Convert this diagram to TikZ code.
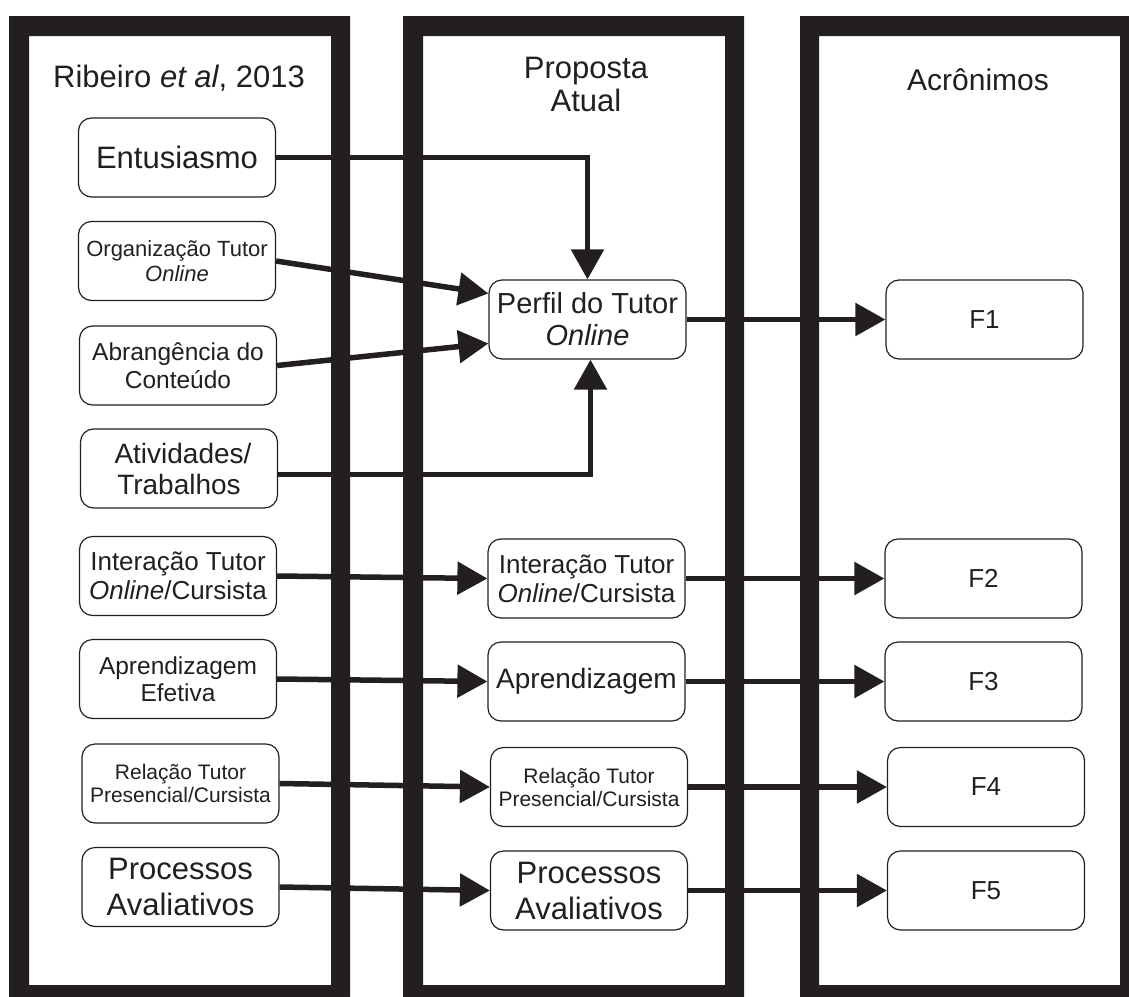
\documentclass[tikz,border=0pt]{standalone}
\usepackage{fontspec}
\setmainfont{Liberation Sans}
\usetikzlibrary{arrows.meta}
\definecolor{ink}{RGB}{35,31,32}
\newcommand{\fs}[2]{\fontsize{#1}{#2}\selectfont}
\tikzset{
  box/.style={draw=ink, line width=1.2pt, rounded corners=13pt, fill=white,
    minimum width=197pt, minimum height=79pt, inner sep=0pt, align=center, text=ink},
  title/.style={inner sep=0pt, align=center, text=ink},
  conn/.style={draw=ink, line width=5.5pt, line join=miter,
    -{Triangle[length=30pt,width=32pt]}},
  frame/.style={fill=ink, even odd rule}
}
\begin{document}
\begin{tikzpicture}[x=1pt,y=-1pt]
\useasboundingbox (0,0) rectangle (1129,996);
\clip (0,0) rectangle (1129,996);
\fill[white] (0,0) rectangle (1129,996);
% frames
\fill[frame] (9,16) rectangle (350,1010) (29,36) rectangle (331,985);
\fill[frame] (403,16) rectangle (744,1010) (423,36) rectangle (725,985);
\fill[frame] (800,16) rectangle (1145,1010) (819,36) rectangle (1120,985);
% titles
\node[title, font=\fs{31}{36}] (t1) at (179,78) {Ribeiro \textit{et al}, 2013};
\node[title, font=\fs{31}{33}] (t2) at (586,84) {Proposta\\Atual};
\node[title, font=\fs{30}{34}] (t3) at (978,80) {Acrônimos};
% left column
\node[box, font=\fs{31}{36}] (ent) at (177,157.5) {Entusiasmo};
\node[box, font=\fs{22}{25}] (org) at (177,261) {Organização Tutor\\\textit{Online}};
\node[box, font=\fs{24.5}{28}] (abr) at (178,365.5) {Abrangência do\\Conteúdo};
\node[box, font=\fs{28}{31}] (ati) at (179,468.5) {\hspace*{8pt}Atividades/\\Trabalhos};
\node[box, font=\fs{26}{29}] (int) at (178,576) {Interação Tutor\\\textit{Online}/Cursista};
\node[box, font=\fs{24.5}{27}] (apr) at (178,679) {Aprendizagem\\Efetiva};
\node[box, font=\fs{21}{23}] (rel) at (180.5,783.5) {Relação Tutor\\Presencial/Cursista};
\node[box, font=\fs{31}{36}] (pro) at (180.5,887) {Processos\\Avaliativos};
% middle column
\node[box, font=\fs{29}{32}] (perf) at (587.5,319.5) {Perfil do Tutor\\\textit{Online}};
\node[box, font=\fs{26}{29}] (int2) at (586.5,578.5) {Interação Tutor\\\textit{Online}/Cursista};
\node[box, font=\fs{28}{32}] (apr2) at (586.5,681.5) {Aprendizagem};
\node[box, font=\fs{21}{23}] (rel2) at (589,787) {Relação Tutor\\Presencial/Cursista};
\node[box, font=\fs{31}{36}] (pro2) at (589,890.5) {Processos\\Avaliativos};
% right column
\node[box, font=\fs{26}{30}] (f1) at (984.5,319.5) {F1};
\node[box, font=\fs{26}{30}] (f2) at (983.5,578.5) {F2};
\node[box, font=\fs{26}{30}] (f3) at (983.5,681.5) {F3};
\node[box, font=\fs{26}{30}] (f4) at (986,787) {F4};
\node[box, font=\fs{26}{30}] (f5) at (986,890.5) {F5};
% connectors
\draw[conn] (ent.east) -| (perf.north);
\draw[conn] (org.east) -- ([yshift=26pt]perf.west);
\draw[conn] (abr.east) -- ([yshift=-24pt]perf.west);
\draw[conn] ([yshift=-6pt]ati.east) -| ([xshift=3pt]perf.south);
\draw[conn] (perf.east) -- (f1.west);
\draw[conn] (int.east) -- (int2.west);
\draw[conn] (apr.east) -- (apr2.west);
\draw[conn] (rel.east) -- (rel2.west);
\draw[conn] (pro.east) -- (pro2.west);
\draw[conn] (int2.east) -- (f2.west);
\draw[conn] (apr2.east) -- (f3.west);
\draw[conn] (rel2.east) -- (f4.west);
\draw[conn] (pro2.east) -- (f5.west);
\end{tikzpicture}
\end{document}
